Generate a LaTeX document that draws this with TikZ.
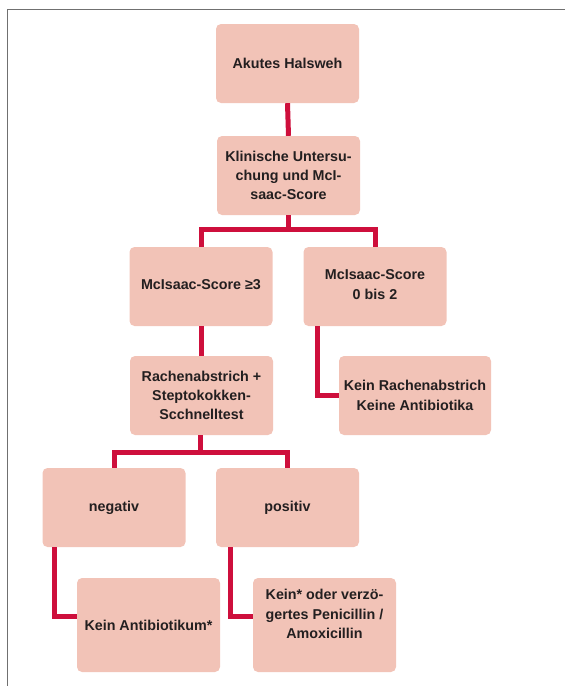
\documentclass[tikz,border=0pt]{standalone}
\usepackage{fontspec}
\setmainfont{Liberation Sans}
\definecolor{boxfill}{HTML}{F2C3B7}
\definecolor{conncol}{HTML}{CE0F3C}
\definecolor{txtcol}{HTML}{231F20}
\definecolor{framecol}{HTML}{707070}
\begin{document}
\begin{tikzpicture}[x=1pt,y=-1pt,
  box/.style={fill=boxfill,draw=none,rounded corners=5pt,minimum width=143pt,
    inner sep=0pt,align=center,text=txtcol,
    font=\fontsize{14.3}{19.3}\selectfont\bfseries},
  conn/.style={draw=conncol,line width=5pt,line join=miter},
  frame/.style={draw=framecol,line width=1.5pt}]
\useasboundingbox (0,0) rectangle (565,686);
\draw[frame] (7.5,686) -- (7.5,9.5) -- (565,9.5);

\node[box,minimum height=79pt] (b1) at (287.5,63.5) {Akutes Halsweh};
\node[box,minimum height=79pt] (b2) at (288.5,175.5) {Klinische Untersu-\\chung und McI-\\saac-Score};
\node[box,minimum height=79pt] (b3) at (201,286.5) {};
\node at ([yshift=2pt]b3.center) [align=center,text=txtcol,font=\fontsize{14.3}{19.3}\selectfont\bfseries] (t3) {McIsaac-Score ≥3};
\node[box,minimum height=79pt] (b4) at (375,286.5) {};
\node at ([yshift=2pt]b4.center) [align=center,text=txtcol,font=\fontsize{14.3}{19.3}\selectfont\bfseries] (t4) {McIsaac-Score\\0 bis 2};
\node[box,minimum height=79pt] (b5) at (201.5,395.5) {Rachenabstrich +\\Steptokokken-\\Scchnelltest};
\node[box,minimum height=79pt,minimum width=152pt] (b6) at (415,395.5) {Kein Rachenabstrich\\Keine Antibiotika};
\node[box,minimum height=79pt] (b7) at (114,507.5) {negativ};
\node[box,minimum height=79pt] (b8) at (287.5,507.5) {positiv};
\node[box,minimum height=94pt] (b9) at (148.5,625) {Kein Antibiotikum*};
\node[box,minimum height=94pt] (b10) at (324.5,625) {};
\node at ([yshift=11pt]b10.center) [align=center,text=txtcol,font=\fontsize{14.3}{19.3}\selectfont\bfseries] (t10) {Kein* oder verzö-\\gertes Penicillin /\\Amoxicillin};

\coordinate (j1) at (288.5,229);
\coordinate (j2) at (200.5,452.5);

\draw[conn] (b1.south) -- (b2.north);
\draw[conn] (b2.south) -- (j1);
\draw[conn] (b3.north) |- (j1) -| (b4.north);
\draw[conn] (b3.south) -- (b5.north -| b3.south);
\draw[conn] ([xshift=14pt]b4.south west) |- (b6.west);
\draw[conn] (b5.south -| j2) -- (j2);
\draw[conn] (b7.north) |- (j2) -| (b8.north);
\draw[conn] ([xshift=12pt]b7.south west) |- ([yshift=9pt]b9.west);
\draw[conn] ([xshift=15pt]b8.south west) |- ([yshift=9pt]b10.west);
\end{tikzpicture}
\end{document}
